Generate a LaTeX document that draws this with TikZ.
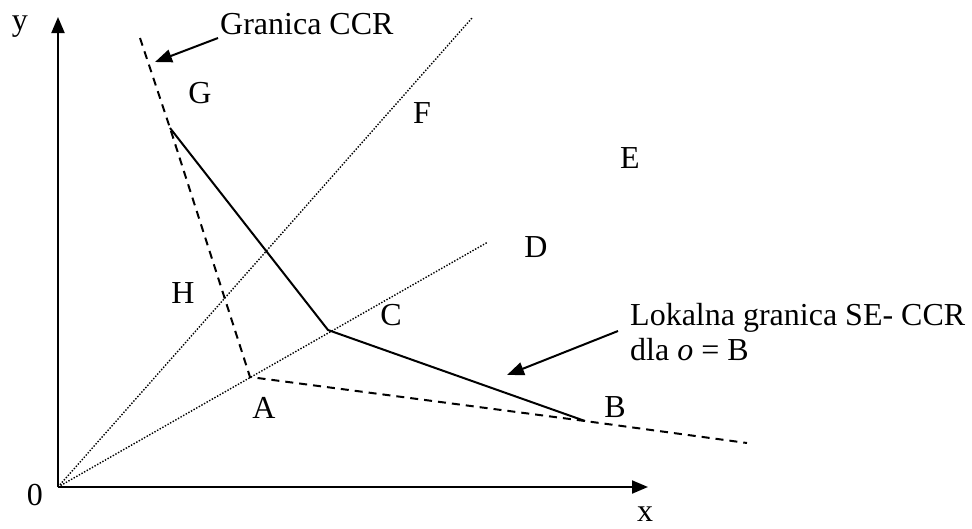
\documentclass[tikz,border=0pt]{standalone}
\usepackage{fontspec}
\setmainfont{Liberation Serif}
\usetikzlibrary{arrows.meta}
\begin{document}
\begin{tikzpicture}[x=1pt,y=-1pt,
  lbl/.style={inner sep=0pt, font=\fontsize{32}{38}\selectfont},
  txt/.style={inner sep=0pt, anchor=base west, font=\fontsize{32}{38}\selectfont},
  axisline/.style={line width=2pt, -{Triangle[length=16pt,width=13pt]}},
  pointer/.style={line width=2pt, -{Triangle[length=17pt,width=13pt]}},
  boundary/.style={line width=2pt, dash pattern=on 8pt off 6pt},
  frontier/.style={line width=2pt, line join=miter},
  ray/.style={line width=1.4pt, dash pattern=on 1.4pt off 1.6pt}]
\useasboundingbox (0,0) rectangle (972,528);
% points
\coordinate (O) at (58,487);
\coordinate (Ytip) at (58,17);
\coordinate (Xtip) at (648,487);
\coordinate (P1) at (140,38);
\coordinate (Q) at (170,128);
\coordinate (Pa) at (250,377);
\coordinate (Pc) at (328,330);
\coordinate (Pb) at (585,421);
\coordinate (Pend) at (747,443);
\coordinate (Fend) at (472,18);
\coordinate (Dend) at (488,242);
\coordinate (g1) at (218,38);
\coordinate (g2) at (155,62);
\coordinate (l1) at (618,331);
\coordinate (l2) at (507,375);
% axes
\draw[axisline] (O) -- (Ytip);
\draw[axisline] (O) -- (Xtip);
% rays
\draw[ray] (O) -- (Fend);
\draw[ray] (O) -- (Dend);
% boundaries
\draw[boundary] (P1) -- (Q) -- (Pa) -- (Pb) -- (Pend);
\draw[frontier] (Q) -- (Pc) -- (Pb);
% pointers
\draw[pointer] (g1) -- (g2);
\draw[pointer] (l1) -- (l2);
% labels
\node[lbl] (ly) at (20,27) {y};
\node[lbl] (l0) at (35,495) {0};
\node[lbl] (lx) at (645,514) {x};
\node[txt] (lgr) at (220,34) {Granica CCR};
\node[lbl] (lG) at (200,93) {G};
\node[lbl] (lF) at (422,113) {F};
\node[lbl] (lE) at (630,158) {E};
\node[lbl] (lD) at (536,247) {D};
\node[lbl] (lH) at (183,293) {H};
\node[lbl] (lC) at (391,315) {C};
\node[lbl] (lA) at (264,408) {A};
\node[lbl] (lB) at (615,407) {B};
\node[txt] (ll1) at (630,325) {Lokalna granica SE- CCR};
\node[txt] (ll2) at (630,360) {dla \textit{o} = B};
\end{tikzpicture}
\end{document}
